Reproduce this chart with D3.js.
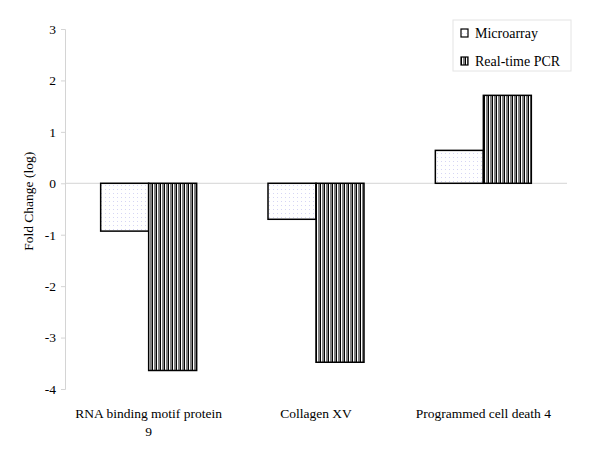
<!DOCTYPE html>
<html>
<head>
<meta charset="utf-8">
<script src="https://cdn.jsdelivr.net/npm/d3@7"></script>
<style>
body { margin: 0; background: #fff; }
svg text { font-family: "Liberation Serif", "Times New Roman", serif; fill: #000; }
</style>
</head>
<body>
<svg id="chart" width="600" height="450"></svg>
<script>
var categories = [["RNA binding motif protein", "9"], ["Collagen XV"], ["Programmed cell death 4"]];
var series_names = ["Microarray", "Real-time PCR"];
var microarray = [-0.93, -0.70, 0.64];
var realtime_pcr = [-3.64, -3.48, 1.71];
var y_ticks = [3, 2, 1, 0, -1, -2, -3, -4];

var svg = d3.select("#chart");
var plot_left = 65, plot_right = 567, plot_top = 29, plot_bottom = 389;

// fill patterns
var defs = svg.append("defs");
var dots = defs.append("pattern")
	.attr("id", "dots")
	.attr("width", 4).attr("height", 4)
	.attr("patternUnits", "userSpaceOnUse");
dots.append("rect").attr("width", 4).attr("height", 4).attr("fill", "#fff");
dots.append("rect").attr("x", 1).attr("y", 1).attr("width", 1).attr("height", 1).attr("fill", "#d6d6f4");

var stripes = defs.append("pattern")
	.attr("id", "stripes")
	.attr("width", 4).attr("height", 4)
	.attr("patternUnits", "userSpaceOnUse");
stripes.append("rect").attr("width", 4).attr("height", 4).attr("fill", "#fff");
stripes.append("rect").attr("x", 0).attr("width", 1).attr("height", 4).attr("fill", "#000");
stripes.append("rect").attr("x", 2).attr("width", 2).attr("height", 4).attr("fill", "#808080");

var fills = ["url(#dots)", "url(#stripes)"];

var x_scale = d3.scaleBand()
	.domain(d3.range(categories.length))
	.range([plot_left, plot_right]);

var x_inner = d3.scaleBand()
	.domain(d3.range(series_names.length))
	.range([0, 96]);

var y_scale = d3.scaleLinear()
	.domain([-4, 3])
	.range([plot_bottom, plot_top]);

// y axis
var y_axis = d3.axisLeft(y_scale)
	.tickValues(y_ticks)
	.tickSize(4)
	.tickFormat(d3.format("d"));

var gy = svg.append("g")
	.attr("transform", "translate(" + plot_left + ",0)")
	.call(y_axis);
gy.select(".domain").attr("stroke", "#d4d4d4");
gy.selectAll(".tick line").attr("stroke", "#d4d4d4");
gy.selectAll(".tick text")
	.attr("x", -9)
	.style("font-size", "13.5px")
	.style("font-family", "Liberation Serif")
	.attr("fill", "#000")
	.text(function(d) { return d < 0 ? "-" + Math.abs(d) : d; });

// zero line
svg.append("line")
	.attr("x1", plot_left).attr("x2", plot_right)
	.attr("y1", y_scale(0)).attr("y2", y_scale(0))
	.attr("stroke", "#d4d4d4");

svg.append("text")
	.attr("transform", "translate(33," + (y_scale(-0.35)) + ") rotate(-90)")
	.attr("text-anchor", "middle")
	.style("font-size", "13.5px")
	.text("Fold Change (log)");

// bars
var all_series = [microarray, realtime_pcr];
all_series.forEach(function(values, s) {
	svg.append("g").selectAll("rect")
		.data(values)
		.enter().append("rect")
		.attr("x", function(d, i) { return x_scale(i) + x_scale.bandwidth() / 2 - 48 + x_inner(s); })
		.attr("width", x_inner.bandwidth())
		.attr("y", function(d) { return y_scale(Math.max(0, d)); })
		.attr("height", function(d) { return Math.abs(y_scale(d) - y_scale(0)); })
		.attr("fill", fills[s])
		.attr("stroke", "#000")
		.attr("stroke-width", 1.5);
});

// category labels
categories.forEach(function(lines, i) {
	var t = svg.append("text")
		.attr("text-anchor", "middle")
		.attr("y", 418)
		.style("font-size", "13.5px");
	lines.forEach(function(l, j) {
		t.append("tspan")
			.attr("x", x_scale(i) + x_scale.bandwidth() / 2)
			.attr("dy", j === 0 ? 0 : 18)
			.text(l);
	});
});

// legend
var legend = svg.append("g").attr("transform", "translate(453,20)");
legend.append("rect")
	.attr("width", 118).attr("height", 51)
	.attr("fill", "#fff")
	.attr("stroke", "#e4e4e4");
series_names.forEach(function(name, s) {
	var cy = 13 + s * 28;
	legend.append("rect")
		.attr("x", 8).attr("y", cy - 4)
		.attr("width", 7).attr("height", 8)
		.attr("fill", fills[s])
		.attr("stroke", "#000")
		.attr("stroke-width", 1.2);
	legend.append("text")
		.attr("x", 22).attr("y", cy + 5)
		.style("font-size", "14px")
		.text(name);
});
</script>
</body>
</html>
